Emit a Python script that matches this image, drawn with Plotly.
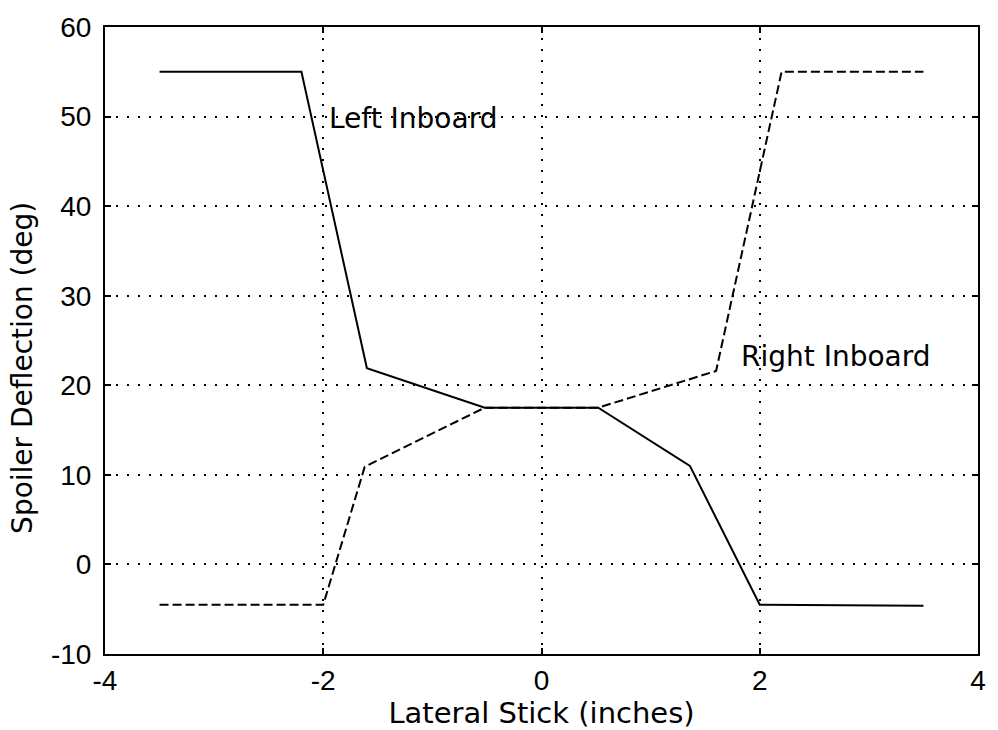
import plotly.graph_objects as go

# Left Inboard (solid)
left_x = [-3.5, -2.2, -1.6, -0.52, 0.52, 1.36, 2.0, 3.5]
left_y = [55.0, 55.0, 21.9, 17.5, 17.5, 11.0, -4.5, -4.6]
# Right Inboard (dashed)
right_x = [-3.5, -2.0, -1.62, -0.52, 0.52, 1.6, 2.2, 3.5]
right_y = [-4.5, -4.5, 10.9, 17.5, 17.5, 21.6, 55.0, 55.0]

x_ticks = [-4, -2, 0, 2, 4]
y_ticks = [-10, 0, 10, 20, 30, 40, 50, 60]

TICK_FONT = "Liberation Sans, Arial, sans-serif"
TEXT_FONT = "DejaVu Sans, Liberation Sans, sans-serif"

fig = go.Figure()
fig.add_trace(go.Scatter(x=left_x, y=left_y, mode="lines",
                         line=dict(color="black", width=2), name="Left Inboard"))
fig.add_trace(go.Scatter(x=right_x, y=right_y, mode="lines",
                         line=dict(color="black", width=2, dash="9px,4px"), name="Right Inboard"))

fig.add_annotation(x=-1.97, y=49.8, text="Left Inboard", showarrow=False,
                   xanchor="left", yanchor="middle", font=dict(size=28, color="black", family=TEXT_FONT))
fig.add_annotation(x=1.81, y=23.2, text="Right Inboard", showarrow=False,
                   xanchor="left", yanchor="middle", font=dict(size=28, color="black", family=TEXT_FONT))

# y-axis title placed as a rotated annotation (it sits slightly below centre in the reference)
fig.add_annotation(xref="paper", yref="paper", x=-0.0946, y=0.457,
                   text="Spoiler Deflection (deg)", textangle=-90, showarrow=False,
                   xanchor="center", yanchor="middle",
                   font=dict(size=28, color="black", family=TEXT_FONT))

axis_common = dict(showline=True, linecolor="black", linewidth=2, mirror="allticks",
                   ticks="inside", ticklen=6, tickwidth=2, tickcolor="black",
                   showgrid=True, gridcolor="black", gridwidth=2, griddash="2px,9px",
                   zeroline=False, tickfont=dict(size=28, color="black", family=TICK_FONT))

fig.update_xaxes(range=[-4, 4], tickvals=x_ticks, ticktext=[str(v) for v in x_ticks],
                 title=dict(text="Lateral Stick (inches)", font=dict(size=29, color="black", family=TEXT_FONT), standoff=2),
                 **axis_common)
fig.update_yaxes(range=[-10, 60], tickvals=y_ticks, ticktext=[str(v) for v in y_ticks],
                 ticklabelstandoff=6,
                 **axis_common)

fig.update_layout(width=998, height=730, showlegend=False,
                  plot_bgcolor="white", paper_bgcolor="white",
                  margin=dict(l=105, r=16, t=25, b=73),
                  font=dict(family=TICK_FONT, color="black"))

fig.write_html("out.html")
